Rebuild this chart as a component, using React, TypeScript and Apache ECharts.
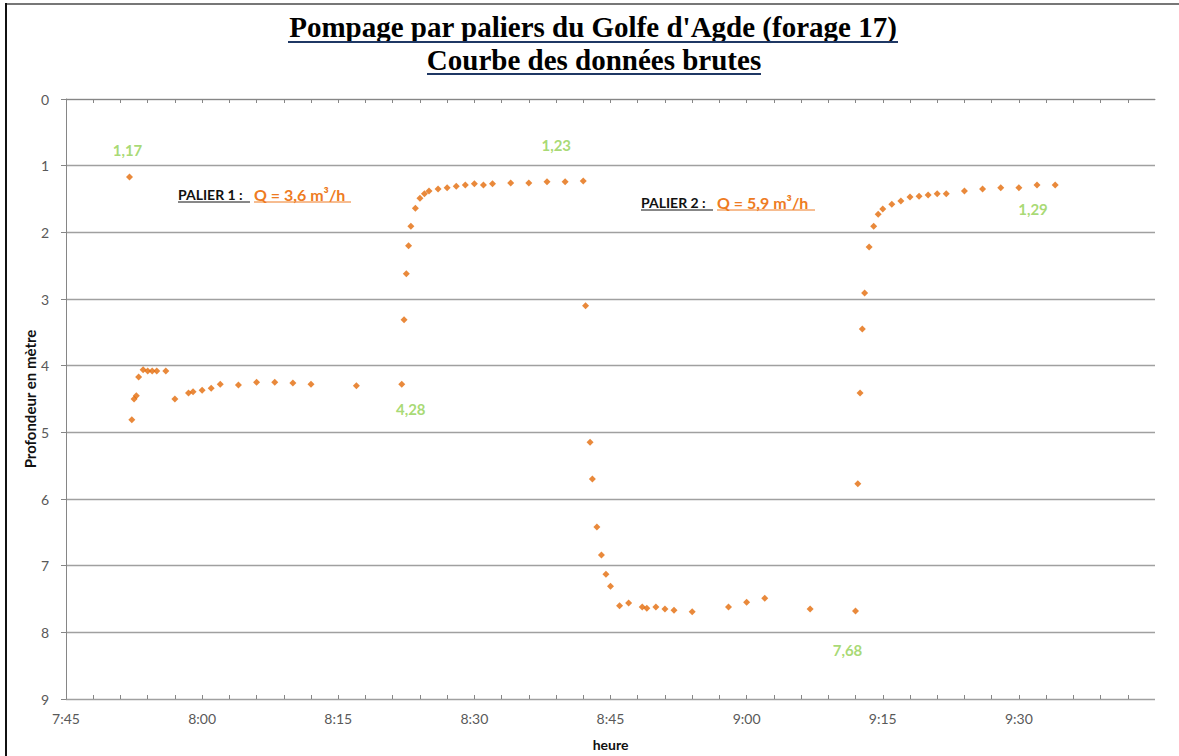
import React, { useEffect, useRef } from "react";
import * as echarts from "echarts";

// Measurement times (clock time) and water depth (m)
const times = [
  "7:52:00", "7:52:15", "7:52:30", "7:52:45", "7:53:00", "7:53:30", "7:54:00", "7:54:30", "7:55:00", "7:56:00",
  "7:57:00", "7:58:30", "7:59:00", "8:00:00", "8:01:00", "8:02:00", "8:04:00", "8:06:00", "8:08:00", "8:10:00",
  "8:12:00", "8:17:00", "8:22:00",
  "8:22:15", "8:22:30", "8:22:45", "8:23:00", "8:23:30", "8:24:00", "8:24:30", "8:25:00", "8:26:00", "8:27:00",
  "8:28:00", "8:29:00", "8:30:00", "8:31:00", "8:32:00", "8:34:00", "8:36:00", "8:38:00", "8:40:00", "8:42:00",
  "8:42:15", "8:42:45", "8:43:00", "8:43:30", "8:44:00", "8:44:30", "8:45:00", "8:46:00", "8:47:00", "8:48:30",
  "8:49:00", "8:50:00", "8:51:00", "8:52:00", "8:54:00", "8:58:00", "9:00:00", "9:02:00", "9:07:00", "9:12:00",
  "9:12:15", "9:12:30", "9:12:45", "9:13:00", "9:13:30", "9:14:00", "9:14:30", "9:15:00", "9:16:00", "9:17:00",
  "9:18:00", "9:19:00", "9:20:00", "9:21:00", "9:22:00", "9:24:00", "9:26:00", "9:28:00", "9:30:00", "9:32:00",
  "9:34:00",
];
const depths = [
  1.17, 4.81, 4.50, 4.45, 4.17, 4.06, 4.08, 4.08, 4.08, 4.08,
  4.50, 4.41, 4.39, 4.37, 4.34, 4.28, 4.29, 4.25, 4.25, 4.26,
  4.28, 4.30, 4.28,
  3.31, 2.62, 2.20, 1.91, 1.64, 1.49, 1.42, 1.38, 1.35, 1.33,
  1.31, 1.29, 1.27, 1.29, 1.27, 1.26, 1.26, 1.24, 1.24, 1.23,
  3.10, 5.15, 5.70, 6.42, 6.84, 7.13, 7.31, 7.60, 7.56, 7.62,
  7.64, 7.62, 7.65, 7.67, 7.69, 7.62, 7.55, 7.49, 7.65, 7.68,
  5.77, 4.41, 3.45, 2.91, 2.22, 1.91, 1.73, 1.65, 1.58, 1.53,
  1.47, 1.46, 1.44, 1.42, 1.42, 1.38, 1.35, 1.33, 1.33, 1.29,
  1.29,
];
// Points whose value is written on the chart
const labeledTimes = ["7:52:00", "8:22:00", "8:42:00", "9:12:00", "9:32:00"];

const xTickLabels = ["7:45", "8:00", "8:15", "8:30", "8:45", "9:00", "9:15", "9:30"];
const xMin = "7:45";
const xMax = "9:45";
const yTicks = [0, 1, 2, 3, 4, 5, 6, 7, 8, 9];

const titleLines = ["Pompage par paliers du Golfe d'Agde (forage 17)", "Courbe des données brutes"];
const paliers = [
  { name: "PALIER 1 :", flow: "Q = 3,6 m³/h" },
  { name: "PALIER 2 :", flow: "Q = 5,9 m³/h" },
];

function toMinutes(t: string): number {
  const [h, m, s] = t.split(":").map(Number);
  return h * 60 + m + (s || 0) / 60;
}
function fmtTime(v: number): string {
  const h = Math.floor(v / 60);
  const m = Math.round(v - h * 60);
  return `${h}:${m < 10 ? "0" + m : m}`;
}

export default function App() {
  const ref = useRef<HTMLDivElement>(null);
  useEffect(() => {
    if (!ref.current) return;
    const chart = echarts.init(ref.current, null, { renderer: "svg" });

    const labelOffsets: Record<string, number[]> = {
      "7:52:00": [-2, -27],
      "8:22:00": [9, 25],
      "8:42:00": [-27, -36],
      "9:12:00": [-8, 39],
      "9:32:00": [-4, 24],
    };
    const data = times.map((t, i) => {
      const item: any = { value: [toMinutes(t), depths[i]] };
      if (labeledTimes.includes(t)) {
        item.label = {
          show: true,
          position: "inside",
          offset: labelOffsets[t],
          formatter: depths[i].toFixed(2).replace(".", ","),
          color: "#92D050",
          fontFamily: "Lato",
          fontWeight: "bold",
          fontSize: 15,
        };
      }
      return item;
    });

    const minX = toMinutes(xMin);
    const maxX = toMinutes(xMax);
    const minorTicks: number[] = [];
    for (let v = minX; v < maxX; v += 3) minorTicks.push(v);

    const axisGray = "#868686";
    const labelStyle = { color: "#595959", fontFamily: "Lato", fontSize: 14 };

    const palierPos = [
      { x: 178, y: 194, split: 254, end: 351 },
      { x: 641, y: 202, split: 717, end: 815 },
    ];
    const palierGraphics: any[] = [];
    paliers.forEach((p, i) => {
      const pos = palierPos[i];
      palierGraphics.push(
        {
          type: "text",
          x: pos.x,
          y: pos.y,
          style: { text: p.name, fill: "#111", font: "bold 14px Lato", textVerticalAlign: "middle" },
        },
        {
          type: "text",
          x: pos.split,
          y: pos.y,
          style: { text: p.flow, fill: "#EE7B22", font: "bold 16px Lato", textVerticalAlign: "middle" },
        },
        {
          type: "line",
          shape: { x1: pos.x, y1: pos.y + 8, x2: pos.split - 4, y2: pos.y + 8 },
          style: { stroke: "#111", lineWidth: 1 },
        },
        {
          type: "line",
          shape: { x1: pos.split, y1: pos.y + 8, x2: pos.end, y2: pos.y + 8 },
          style: { stroke: "#EE7B22", lineWidth: 1 },
        }
      );
    });

    const option: any = {
      animation: false,
      backgroundColor: "#fff",
      grid: { left: 66, right: 24, top: 99, bottom: 57, outerBoundsMode: "none", containLabel: false },
      xAxis: [
        {
          type: "value",
          min: minX,
          max: maxX,
          interval: 15,
          name: "heure",
          nameLocation: "middle",
          nameGap: 38,
          nameMoveOverlap: false,
          nameTextStyle: { color: "#111", fontFamily: "Lato", fontWeight: "bold", fontSize: 14 },
          axisLine: { show: true, lineStyle: { color: axisGray } },
          axisTick: { show: true, length: 4, customValues: minorTicks, lineStyle: { color: axisGray } },
          axisLabel: {
            ...labelStyle,
            margin: 12,
            customValues: xTickLabels.map(toMinutes),
            formatter: (v: number) => fmtTime(v),
          },
          splitLine: { show: false },
        },
        {
          type: "value",
          min: minX,
          max: maxX,
          interval: 15,
          position: "bottom",
          axisLine: { show: false },
          axisTick: { show: true, inside: true, length: 4, customValues: minorTicks, lineStyle: { color: axisGray } },
          axisLabel: { show: false },
          splitLine: { show: false },
        },
      ],
      yAxis: {
        type: "value",
        inverse: true,
        min: yTicks[0],
        max: yTicks[yTicks.length - 1],
        interval: 1,
        name: "Profondeur en mètre",
        nameLocation: "middle",
        nameGap: 29,
        nameMoveOverlap: false,
        nameTextStyle: { color: "#111", fontFamily: "Lato", fontWeight: "bold", fontSize: 15 },
        axisLine: { show: true, lineStyle: { color: axisGray } },
        axisTick: { show: true, length: 5, lineStyle: { color: axisGray } },
        axisLabel: { ...labelStyle, margin: 17 },
        splitLine: { show: true, lineStyle: { color: "#A0A0A0", width: 1.4 } },
      },
      series: [
        {
          type: "scatter",
          xAxisIndex: 0,
          symbol: "diamond",
          symbolSize: 7,
          itemStyle: { color: "#E46C0A" },
          data,
        },
      ],
      graphic: [
        { type: "rect", shape: { x: 5, y: 3, width: 1174, height: 2 }, style: { fill: "#777" } },
        { type: "rect", shape: { x: 5, y: 3, width: 2, height: 753 }, style: { fill: "#111" } },
        {
          type: "text",
          x: 593,
          y: 27,
          style: {
            text: titleLines[0],
            fill: "#000",
            font: "bold 29px 'Liberation Serif'",
            textAlign: "center",
            textVerticalAlign: "middle",
          },
        },
        { type: "line", shape: { x1: 288, y1: 42, x2: 898, y2: 42 }, style: { stroke: "#1F3864", lineWidth: 2 } },
        {
          type: "text",
          x: 594,
          y: 60,
          style: {
            text: titleLines[1],
            fill: "#000",
            font: "bold 29px 'Liberation Serif'",
            textAlign: "center",
            textVerticalAlign: "middle",
          },
        },
        { type: "line", shape: { x1: 427, y1: 74, x2: 761, y2: 74 }, style: { stroke: "#1F3864", lineWidth: 2 } },
        ...palierGraphics,
      ],
    };
    chart.setOption(option);
    return () => chart.dispose();
  }, []);

  return (
    <div
      ref={ref}
      style={{ position: "absolute", left: 0, top: 0, width: 1179, height: 756, background: "#fff" }}
    />
  );
}
